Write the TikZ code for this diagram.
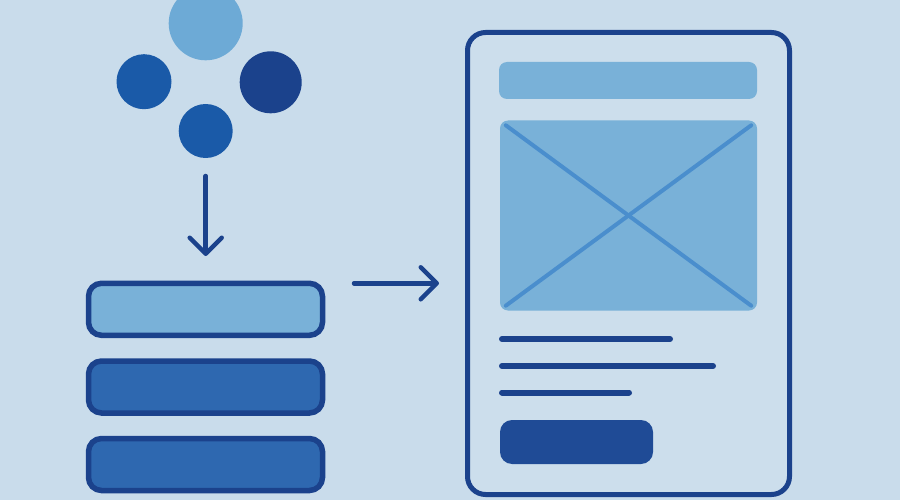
\documentclass[tikz,border=0pt]{standalone}
\usetikzlibrary{arrows.meta}
\definecolor{bg}{HTML}{C9DCEB}
\definecolor{docbg}{HTML}{CCDEEC}
\definecolor{lightb}{HTML}{79B1D8}
\definecolor{topb}{HTML}{6DAAD6}
\definecolor{midb}{HTML}{1A5AA8}
\definecolor{darkb}{HTML}{1B428C}
\definecolor{barb}{HTML}{2E68B0}
\definecolor{crossb}{HTML}{4A8ECD}
\definecolor{btnb}{HTML}{1F4B96}
\tikzset{
  dot/.style={circle, inner sep=0pt, draw=none},
  stackbar/.style={rectangle, rounded corners=13pt, draw=darkb, line width=5.5pt, minimum width=234pt, minimum height=52pt, inner sep=0pt},
  flowarrow/.style={draw=darkb, line width=4.5pt, line cap=round, -{Straight Barb[length=16pt,width=32pt,round]}},
  textline/.style={draw=darkb, line width=6pt, line cap=round},
}
\begin{document}
\begin{tikzpicture}[x=1pt,y=-1pt]
\fill[bg] (0,0) rectangle (900,500);
\useasboundingbox (0,0) rectangle (900,500);
% circles
\node[dot, fill=topb, minimum size=74pt] (ctop) at (205.7,23.3) {};
\node[dot, fill=midb, minimum size=55pt] (cleft) at (144,81.7) {};
\node[dot, fill=darkb, minimum size=62pt] (cright) at (270.7,82.3) {};
\node[dot, fill=midb, minimum size=54pt] (cbot) at (205.7,131) {};
% stack bars
\node[stackbar, fill=lightb] (bar1) at (205.5,309.3) {};
\node[stackbar, fill=barb] (bar2) at (205.5,387) {};
\node[stackbar, fill=barb] (bar3) at (205.5,464.5) {};
% arrows
\coordinate (d1) at (205.7,176);
\coordinate (d2) at (205.7,256);
\draw[flowarrow] (d1) -- (d2);
\coordinate (r1) at (354,283.3);
\coordinate (r2) at (439,283.3);
\draw[flowarrow] (r1) -- (r2);
% document frame
\node[rectangle, rounded corners=18pt, draw=darkb, line width=5pt, fill=docbg, minimum width=322pt, minimum height=462pt, inner sep=0pt] (doc) at (628.5,263.5) {};
\node[rectangle, rounded corners=8pt, fill=lightb, minimum width=258pt, minimum height=37pt, inner sep=0pt] (hdr) at (628,80.5) {};
\node[rectangle, rounded corners=8pt, fill=lightb, minimum width=257pt, minimum height=190pt, inner sep=0pt] (img) at (628.5,215.5) {};
\draw[crossb, line width=4pt, line cap=round] ([shift={(6,5)}]img.north west) -- ([shift={(-6,-5)}]img.south east);
\draw[crossb, line width=4pt, line cap=round] ([shift={(-6,5)}]img.north east) -- ([shift={(6,-5)}]img.south west);
% text lines
\coordinate (t1a) at (502,339); \coordinate (t1b) at (670,339);
\coordinate (t2a) at (502,366); \coordinate (t2b) at (713,366);
\coordinate (t3a) at (502,392.5); \coordinate (t3b) at (629,392.5);
\draw[textline] (t1a) -- (t1b);
\draw[textline] (t2a) -- (t2b);
\draw[textline] (t3a) -- (t3b);
% button
\node[rectangle, rounded corners=12pt, fill=btnb, minimum width=153pt, minimum height=44pt, inner sep=0pt] (btn) at (576.5,442) {};
\end{tikzpicture}
\end{document}
